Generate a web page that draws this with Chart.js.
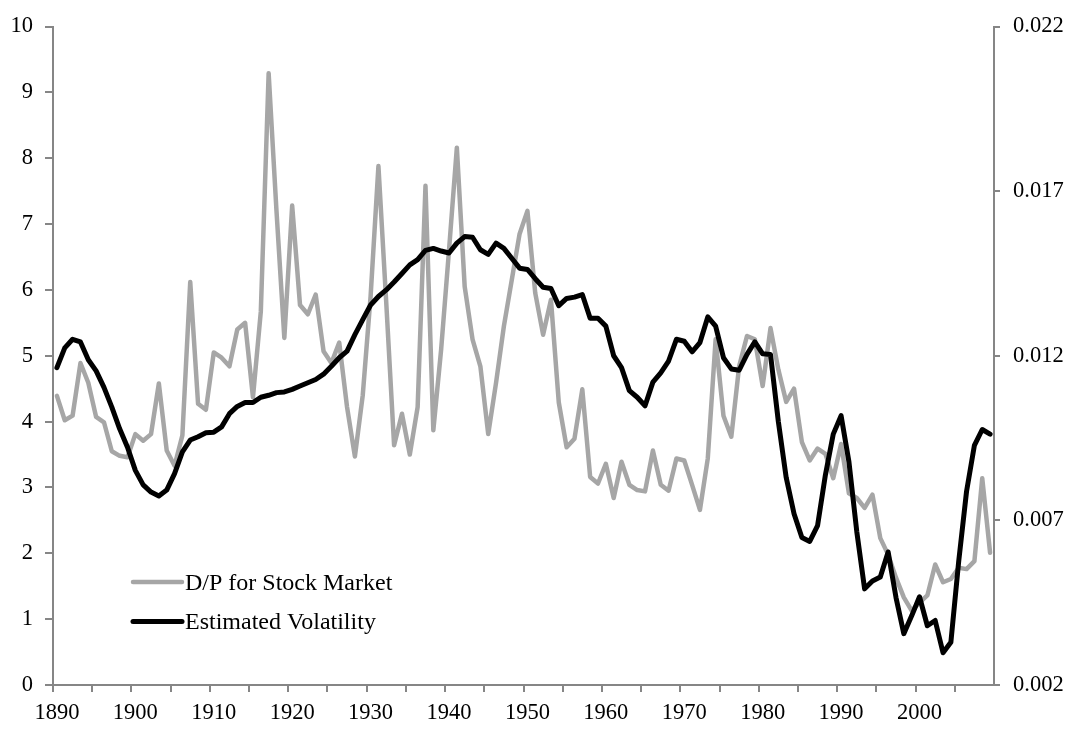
<!DOCTYPE html>
<html>
<head>
<meta charset="utf-8">
<script src="https://cdn.jsdelivr.net/npm/chart.js@4/dist/chart.umd.min.js"></script>
<style>
  html, body { margin: 0; padding: 0; background: #ffffff; }
  #wrap { width: 1072px; height: 729px; }
</style>
</head>
<body>
<div id="wrap"><canvas id="c" width="1072" height="729"></canvas></div>
<script>
// ---- Data ----
const years = [];
for (let y = 1890; y <= 2009; y++) years.push(String(y));

const dpLabel = 'D/P for Stock Market';
const volLabel = 'Estimated Volatility';

// D/P for stock market (left axis, percent)
const dpValues = [
  4.39, 4.02, 4.09, 4.89, 4.59, 4.07, 3.99, 3.55, 3.48, 3.46,   // 1890s
  3.81, 3.71, 3.81, 4.58, 3.56, 3.33, 3.79, 6.12, 4.27, 4.18,   // 1900s
  5.05, 4.97, 4.84, 5.40, 5.50, 4.37, 5.67, 9.29, 7.20, 5.27,   // 1910s
  7.28, 5.77, 5.63, 5.93, 5.07, 4.89, 5.20, 4.22, 3.47, 4.40,   // 1920s
  5.90, 7.88, 5.80, 3.64, 4.12, 3.50, 4.22, 7.58, 3.87, 5.10,   // 1930s
  6.60, 8.16, 6.05, 5.25, 4.84, 3.81, 4.59, 5.45, 6.15, 6.85,   // 1940s
  7.20, 5.95, 5.32, 5.85, 4.29, 3.61, 3.74, 4.49, 3.16, 3.06,   // 1950s
  3.36, 2.84, 3.39, 3.04, 2.96, 2.94, 3.56, 3.04, 2.95, 3.44,   // 1960s
  3.41, 3.04, 2.66, 3.44, 5.25, 4.09, 3.77, 4.84, 5.30, 5.25,   // 1970s
  4.54, 5.42, 4.79, 4.30, 4.50, 3.69, 3.41, 3.59, 3.51, 3.14,   // 1980s
  3.66, 2.91, 2.84, 2.69, 2.89, 2.23, 1.98, 1.63, 1.33, 1.13,   // 1990s
  1.25, 1.36, 1.83, 1.56, 1.61, 1.78, 1.76, 1.88, 3.14, 2.01    // 2000s
];

// Estimated volatility (right axis)
const volValues = [
  0.01164, 0.01224, 0.01250, 0.01242, 0.01188, 0.01154, 0.01104, 0.01044, 0.00978, 0.00922,
  0.00852, 0.00808, 0.00786, 0.00774, 0.00792, 0.00842, 0.00908, 0.00944, 0.00954, 0.00966,
  0.00968, 0.00984, 0.01024, 0.01046, 0.01058, 0.01058, 0.01074, 0.01080, 0.01088, 0.01090,
  0.01098, 0.01108, 0.01118, 0.01128, 0.01144, 0.01168, 0.01194, 0.01214, 0.01264, 0.01310,
  0.01354, 0.01380, 0.01400, 0.01424, 0.01450, 0.01476, 0.01492, 0.01520, 0.01526, 0.01518,
  0.01512, 0.01542, 0.01562, 0.01560, 0.01522, 0.01508, 0.01542, 0.01526, 0.01496, 0.01466,
  0.01462, 0.01434, 0.01408, 0.01404, 0.01352, 0.01374, 0.01378, 0.01386, 0.01314, 0.01314,
  0.01290, 0.01200, 0.01164, 0.01094, 0.01074, 0.01048, 0.01120, 0.01148, 0.01184, 0.01250,
  0.01244, 0.01212, 0.01240, 0.01318, 0.01290, 0.01194, 0.01160, 0.01156, 0.01204, 0.01242,
  0.01206, 0.01204, 0.01000, 0.00830, 0.00720, 0.00648, 0.00636, 0.00684, 0.00838, 0.00962,
  0.01018, 0.00878, 0.00666, 0.00492, 0.00516, 0.00528, 0.00604, 0.00466, 0.00356, 0.00410,
  0.00468, 0.00380, 0.00396, 0.00298, 0.00330, 0.00576, 0.00788, 0.00928, 0.00976, 0.00962
];

const leftTicks = { min: 0, max: 10, step: 1 };
const rightTicks = { min: 0.002, max: 0.022, step: 0.005 };

// ---- Styles ----
const AXIS = '#868686';
const GRAY = '#a6a6a6';
const FONT = '"Liberation Serif", "Times New Roman", serif';

const inlineLegend = {
  id: 'inlineLegend',
  afterDraw(chart) {
    const ctx = chart.ctx;
    const area = chart.chartArea;
    const ds = chart.data.datasets;
    const x0 = area.left + 80;
    const lineLen = 49;
    const baselines = [area.bottom - 95.5, area.bottom - 56];
    ctx.save();
    ctx.font = '24px ' + FONT;
    ctx.textBaseline = 'alphabetic';
    ctx.textAlign = 'left';
    ds.forEach((d, i) => {
      const by = baselines[i];
      const ly = by - 7.5;
      ctx.beginPath();
      ctx.strokeStyle = d.borderColor;
      ctx.lineWidth = d.borderWidth;
      ctx.lineCap = 'round';
      ctx.moveTo(x0, ly);
      ctx.lineTo(x0 + lineLen, ly);
      ctx.stroke();
      ctx.fillStyle = '#000000';
      ctx.fillText(d.label, x0 + lineLen + 3, by);
    });
    ctx.restore();
  }
};

new Chart(document.getElementById('c'), {
  type: 'line',
  data: {
    labels: years,
    datasets: [
      {
        label: dpLabel,
        data: dpValues,
        yAxisID: 'y',
        borderColor: GRAY,
        borderWidth: 4.5,
        pointRadius: 0,
        tension: 0,
        borderJoinStyle: 'round',
        borderCapStyle: 'round',
        order: 2
      },
      {
        label: volLabel,
        data: volValues,
        yAxisID: 'y2',
        borderColor: '#000000',
        borderWidth: 5,
        pointRadius: 0,
        tension: 0,
        borderJoinStyle: 'round',
        borderCapStyle: 'round',
        order: 1
      }
    ]
  },
  options: {
    responsive: false,
    devicePixelRatio: 1,
    animation: false,
    layout: { padding: { top: 21, left: 0, right: 0, bottom: 0 } },
    plugins: {
      legend: { display: false },
      tooltip: { enabled: false }
    },
    scales: {
      x: {
        type: 'category',
        offset: true,
        afterFit: (s) => { s.height = 44; },
        border: { display: true, color: AXIS, width: 2 },
        grid: {
          offset: true,
          drawOnChartArea: false,
          drawTicks: true,
          tickLength: 7,
          lineWidth: 2,
          color: (c) => (c.index % 5 === 0 ? AXIS : 'rgba(0,0,0,0)')
        },
        ticks: {
          autoSkip: false,
          maxRotation: 0,
          minRotation: 0,
          padding: 8,
          color: '#000000',
          font: { family: FONT, size: 22.5 },
          callback: function (val, idx) {
            const lab = this.getLabelForValue(val);
            return Number(lab) % 10 === 0 ? lab : '';
          }
        }
      },
      y: {
        position: 'left',
        min: leftTicks.min,
        max: leftTicks.max,
        afterFit: (s) => { s.width = 53; },
        border: { display: true, color: AXIS, width: 2 },
        grid: { drawOnChartArea: false, tickLength: 8, color: AXIS, lineWidth: 2 },
        ticks: {
          stepSize: leftTicks.step,
          padding: 12,
          color: '#000000',
          font: { family: FONT, size: 22.5 }
        }
      },
      y2: {
        position: 'right',
        min: rightTicks.min,
        max: rightTicks.max,
        afterFit: (s) => { s.width = 78; },
        border: { display: true, color: AXIS, width: 2 },
        grid: { drawOnChartArea: false, tickLength: 6, color: AXIS, lineWidth: 2 },
        ticks: {
          stepSize: rightTicks.step,
          padding: 13,
          color: '#000000',
          font: { family: FONT, size: 22.5 },
          callback: (v) => Number(v).toFixed(3)
        }
      }
    }
  },
  plugins: [inlineLegend]
});
</script>
</body>
</html>
